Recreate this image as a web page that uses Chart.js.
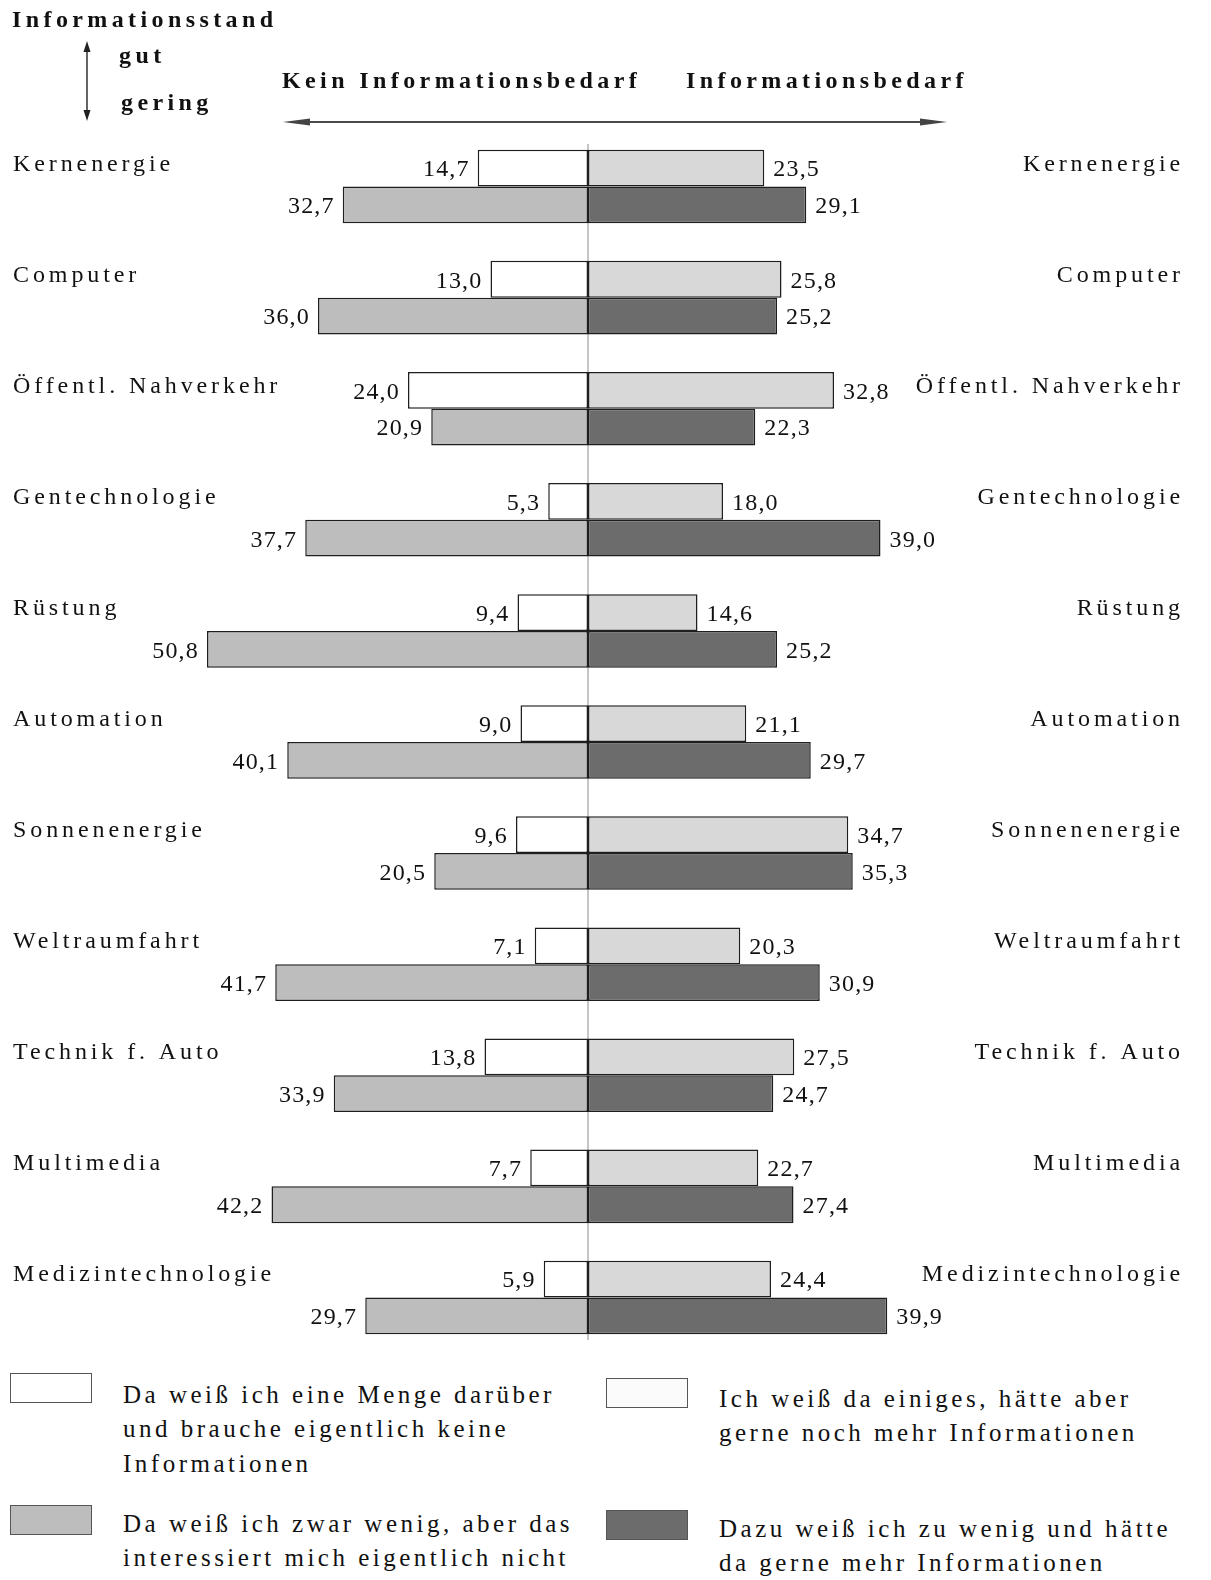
<!DOCTYPE html>
<html lang="de">
<head>
<meta charset="utf-8">
<title>Informationsstand und Informationsbedarf</title>
<script src="https://cdn.jsdelivr.net/npm/chart.js@4.4.0/dist/chart.umd.min.js"></script>
<style>
  body { margin: 0; background: #fff; width: 1211px; height: 1580px; position: relative; overflow: hidden; }
  #infoChart { position: absolute; left: 0; top: 0; }
  .feld { position: absolute; width: 82px; height: 30px; border: 1px solid #555; box-sizing: border-box; }
  .text { position: absolute; font-family: "Liberation Serif", "Times New Roman", serif; font-size: 25px;
          line-height: 34.3px; letter-spacing: 3.5px; color: #111; white-space: nowrap; }
</style>
</head>
<body>
<canvas id="infoChart" width="1211" height="1370"></canvas>

<div class="feld" style="left:10px;top:1373px;background:#ffffff"></div>
<div class="text" style="left:123px;top:1378px">Da weiß ich eine Menge darüber<br>und brauche eigentlich keine<br>Informationen</div>
<div class="feld" style="left:606px;top:1378px;background:#fbfbfb"></div>
<div class="text" style="left:719px;top:1382px">Ich weiß da einiges, hätte aber<br>gerne noch mehr Informationen</div>
<div class="feld" style="left:10px;top:1505px;background:#bdbdbd"></div>
<div class="text" style="left:123px;top:1507px">Da weiß ich zwar wenig, aber das<br>interessiert mich eigentlich nicht</div>
<div class="feld" style="left:606px;top:1510px;background:#6c6c6c"></div>
<div class="text" style="left:719px;top:1512px">Dazu weiß ich zu wenig und hätte<br>da gerne mehr Informationen</div>

<script>
// Themen (von oben nach unten)
var themen = ["Kernenergie", "Computer", "Öffentl. Nahverkehr", "Gentechnologie", "Rüstung",
   "Automation", "Sonnenenergie", "Weltraumfahrt", "Technik f. Auto", "Multimedia", "Medizintechnologie"];

// Informationsstand gut
var vielKeinBedarf = [14.7, 13.0, 24.0, 5.3, 9.4, 9.0, 9.6, 7.1, 13.8, 7.7, 5.9];
var einigesMitBedarf = [23.5, 25.8, 32.8, 18.0, 14.6, 21.1, 34.7, 20.3, 27.5, 22.7, 24.4];
// Informationsstand gering
var wenigKeinBedarf = [32.7, 36.0, 20.9, 37.7, 50.8, 40.1, 20.5, 41.7, 33.9, 42.2, 29.7];
var wenigMitBedarf = [29.1, 25.2, 22.3, 39.0, 25.2, 29.7, 35.3, 30.9, 24.7, 27.4, 39.9];

var SERIF = '"Liberation Serif", "Times New Roman", serif';

function komma(v) {
   return v.toFixed(1).replace(".", ",");
}

function spitze(ctx, x, y, dx, dy, len, half) {
   // Pfeilspitze bei (x,y), Richtung (dx,dy)
   ctx.beginPath();
   ctx.moveTo(x, y);
   ctx.lineTo(x - dx * len - dy * half, y - dy * len + dx * half);
   ctx.lineTo(x - dx * len + dy * half, y - dy * len - dx * half);
   ctx.closePath();
   ctx.fill();
}

var beschriftung = {
   id: "beschriftung",
   beforeDatasetsDraw: function (chart) {
      var ctx = chart.ctx;
      var x0 = chart.scales.x.getPixelForValue(0);
      ctx.save();
      ctx.strokeStyle = "#8c8c8c";
      ctx.lineWidth = 1;
      ctx.beginPath();
      ctx.moveTo(x0, chart.chartArea.top + 13);
      ctx.lineTo(x0, chart.chartArea.bottom - 13);
      ctx.stroke();
      ctx.restore();
   },
   afterDraw: function (chart) {
      var ctx = chart.ctx;
      var yScale = chart.scales.y;
      ctx.save();
      ctx.fillStyle = "#111";

      // Werte an den Balken
      ctx.font = "24px " + SERIF;
      ctx.letterSpacing = "1.2px";
      ctx.textBaseline = "middle";
      for (var d = 0; d < 4; d++) {
         var meta = chart.getDatasetMeta(d);
         var links = d === 0 || d === 2;
         var quelle = [vielKeinBedarf, einigesMitBedarf, wenigKeinBedarf, wenigMitBedarf][d];
         meta.data.forEach(function (bar, i) {
            if (links) {
               ctx.textAlign = "right";
               ctx.fillText(komma(quelle[i]), bar.x - 8, bar.y + 2);
            } else {
               ctx.textAlign = "left";
               ctx.fillText(komma(quelle[i]), bar.x + 9, bar.y + 2);
            }
         });
      }

      // Themen links und rechts
      ctx.font = "24px " + SERIF;
      ctx.letterSpacing = "3.9px";
      ctx.textBaseline = "alphabetic";
      themen.forEach(function (t, i) {
         var y = yScale.getPixelForValue(i) - 16;
         ctx.textAlign = "left";
         ctx.fillText(t, 13, y);
         ctx.textAlign = "right";
         ctx.fillText(t, 1184, y);
      });

      // Kopfzeilen
      ctx.font = "bold 24px " + SERIF;
      ctx.letterSpacing = "4.4px";
      ctx.textAlign = "left";
      ctx.fillText("Informationsstand", 12, 27);
      ctx.fillText("gut", 119, 63);
      ctx.fillText("gering", 121, 110);
      ctx.fillText("Kein Informationsbedarf", 282, 88);
      ctx.fillText("Informationsbedarf", 686, 88);

      // Pfeile
      ctx.letterSpacing = "0px";
      ctx.strokeStyle = "#111";
      ctx.lineWidth = 1.3;
      ctx.beginPath();
      ctx.moveTo(87, 46);
      ctx.lineTo(87, 116);
      ctx.moveTo(292, 122);
      ctx.lineTo(938, 122);
      ctx.stroke();
      ctx.fillStyle = "#222";
      spitze(ctx, 87, 41, 0, -1, 11, 3.5);
      spitze(ctx, 87, 121, 0, 1, 11, 3.5);
      ctx.fillStyle = "#444";
      spitze(ctx, 283, 122, -1, 0, 27, 3.5);
      spitze(ctx, 947, 122, 1, 0, 27, 3.5);
      ctx.restore();
   }
};

var ctx = document.getElementById("infoChart").getContext("2d");

var balken = function (label, werte, stack, farbe) {
   return {
      label: label,
      data: werte,
      stack: stack,
      backgroundColor: farbe,
      borderColor: "#1e1e1e",
      borderWidth: 1.5,
      borderSkipped: false,
      barPercentage: 1,
      categoryPercentage: 0.662
   };
};

var chart = new Chart(ctx, {
   type: "bar",
   data: {
      labels: themen,
      datasets: [
         balken("Da weiß ich eine Menge darüber und brauche eigentlich keine Informationen",
            vielKeinBedarf.map(function (v) { return -v; }), "gut", "#ffffff"),
         balken("Ich weiß da einiges, hätte aber gerne noch mehr Informationen",
            einigesMitBedarf, "gut", "#d8d8d8"),
         balken("Da weiß ich zwar wenig, aber das interessiert mich eigentlich nicht",
            wenigKeinBedarf.map(function (v) { return -v; }), "gering", "#bdbdbd"),
         balken("Dazu weiß ich zu wenig und hätte da gerne mehr Informationen",
            wenigMitBedarf, "gering", "#6c6c6c")
      ]
   },
   options: {
      responsive: false,
      animation: false,
      indexAxis: "y",
      layout: { padding: { left: 138, right: 173, top: 131, bottom: 17 } },
      plugins: {
         legend: { display: false },
         tooltip: { enabled: false }
      },
      scales: {
         x: { stacked: true, min: -60, max: 60, display: false },
         y: { display: false }
      }
   },
   plugins: [beschriftung]
});
</script>
</body>
</html>
